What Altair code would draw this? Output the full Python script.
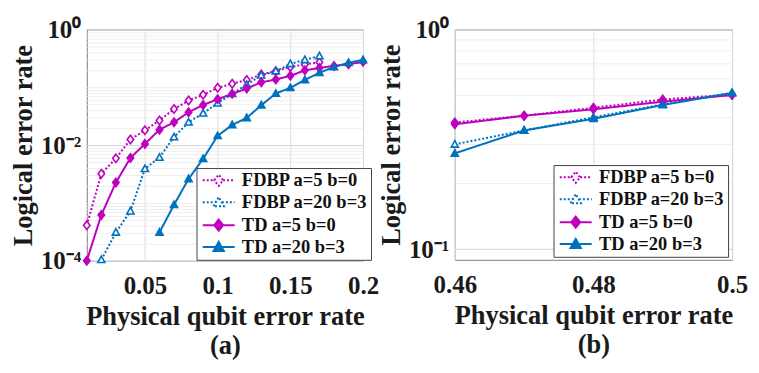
import altair as alt
import pandas as pd

# ---------------- data ----------------
SERIES = ["FDBP a=5 b=0", "FDBP a=20 b=3", "TD a=5 b=0", "TD a=20 b=3"]
COLORS = ["#BF00BF", "#0072BD", "#BF00BF", "#0072BD"]
FILLS = ["white", "white", "#BF00BF", "#0072BD"]
DASHES = [[2, 2], [2, 2], [1, 0], [1, 0]]

# panel (a)
p_fdbp5_a = [0.01, 0.02, 0.03, 0.04, 0.05, 0.06, 0.07, 0.08, 0.09, 0.10,
             0.11, 0.12, 0.13, 0.14, 0.15, 0.16, 0.17]
ler_fdbp5_a = [4.1e-4, 3.2e-3, 5.9e-3, 1.25e-2, 1.8e-2, 2.67e-2, 4.2e-2, 5.9e-2,
               7.4e-2, 9.8e-2, 0.115, 0.134, 0.166, 0.19, 0.225, 0.248, 0.27]

p_fdbp20_a = [0.02, 0.03, 0.04, 0.05, 0.06, 0.07, 0.08, 0.09, 0.10, 0.11,
              0.12, 0.13, 0.14, 0.15, 0.16, 0.17]
ler_fdbp20_a = [1.04e-4, 3.1e-4, 7.2e-4, 3.9e-3, 6.1e-3, 1.38e-2, 2.48e-2, 3.55e-2,
                5.3e-2, 7.7e-2, 0.111, 0.161, 0.19, 0.254, 0.298, 0.347]

p_td5_a = [0.01, 0.02, 0.03, 0.04, 0.05, 0.06, 0.07, 0.08, 0.09, 0.10,
           0.11, 0.12, 0.13, 0.14, 0.15, 0.16, 0.17, 0.18, 0.19, 0.20]
ler_td5_a = [1.0e-4, 6.2e-4, 2.25e-3, 6.0e-3, 1.05e-2, 1.85e-2, 2.48e-2, 3.7e-2,
             4.95e-2, 6.2e-2, 7.7e-2, 9.5e-2, 0.122, 0.136, 0.158, 0.196, 0.216,
             0.234, 0.25, 0.275]

p_td20_a = [0.06, 0.07, 0.08, 0.09, 0.10, 0.11, 0.12, 0.13, 0.14, 0.15,
            0.16, 0.17, 0.18, 0.19, 0.20]
ler_td20_a = [3.1e-4, 9.3e-4, 2.6e-3, 5.8e-3, 1.45e-2, 2.23e-2, 2.96e-2, 4.9e-2,
              7.8e-2, 9.8e-2, 0.134, 0.178, 0.224, 0.265, 0.298]

# panel (b)
p_b = [0.46, 0.47, 0.48, 0.49, 0.50]
ler_fdbp5_b = [0.377, 0.405, 0.44, 0.48, 0.506]
ler_fdbp20_b = [0.30, 0.347, 0.398, 0.456, 0.515]
ler_td5_b = [0.37, 0.405, 0.433, 0.469, 0.503]
ler_td20_b = [0.273, 0.347, 0.392, 0.453, 0.514]

# ticks
x_ticks_a = [0.05, 0.1, 0.15, 0.2]
x_ticks_b = [0.46, 0.48, 0.5]
y_ticks_a = [m * 10.0 ** k for k in range(-4, 0) for m in range(1, 10)] + [1.0]
y_ticks_b = [m * 0.1 for m in range(1, 10)] + [1.0]


def frame(pairs):
    rows = []
    for name, ps, vals in pairs:
        for p, v in zip(ps, vals):
            rows.append({"series": name, "p": p, "ler": v})
    return pd.DataFrame(rows)


df_a = frame([
    (SERIES[0], p_fdbp5_a, ler_fdbp5_a),
    (SERIES[1], p_fdbp20_a, ler_fdbp20_a),
    (SERIES[2], p_td5_a, ler_td5_a),
    (SERIES[3], p_td20_a, ler_td20_a),
])
df_b = frame([
    (SERIES[0], p_b, ler_fdbp5_b),
    (SERIES[1], p_b, ler_fdbp20_b),
    (SERIES[2], p_b, ler_td5_b),
    (SERIES[3], p_b, ler_td20_b),
])

FONT = "Liberation Serif"

DIAM_PT = "M0,-1.3L1,0L0,1.3L-1,0Z"
TRI_PT = "M0,-1.15L1.1,0.85L-1.1,0.85Z"
PT_SHAPES = [DIAM_PT, TRI_PT, DIAM_PT, TRI_PT]
DIAM_LG = "M-4,0H-1.1M1.1,0H4M-1.1,0L0,-1.4L1.1,0L0,1.4Z"
TRI_LG = "M-4,0H-0.8M0.8,0H4M-1.3,1L0,-1.3L1.3,1Z"
LG_SHAPES = [DIAM_LG, TRI_LG, DIAM_LG, TRI_LG]


def panel(df, xdom, xticks, ydom, yticks, labels, caption, lx, ly):
    label_expr, major_test = labels
    x_enc = alt.X(
        "p:Q",
        scale=alt.Scale(domain=xdom, nice=False, zero=False),
        axis=alt.Axis(
            values=xticks, format="~g",
            title=["Physical qubit error rate", caption],
            titleLineHeight=29, titlePadding=5,
            labelPadding=13, labelFlush=False, labelBound=False,
            gridColor="#dcdcdc",
        ),
    )
    y_enc = alt.Y(
        "ler:Q",
        scale=alt.Scale(type="log", domain=ydom, nice=False),
        axis=alt.Axis(
            values=yticks, labelExpr=label_expr,
            title="Logical error rate", titlePadding=3,
            labelPadding=6, labelFlush=False, labelBound=False,
            labelOverlap=False,
            gridColor={"condition": {"test": major_test, "value": "#d6d6d6"},
                       "value": "#eeeeee"},
        ),
    )
    base = alt.Chart(df)
    layers = []
    for i, s in enumerate(SERIES):
        sub = base.transform_filter(alt.datum.series == s)
        layers.append(sub.mark_line(color=COLORS[i], strokeWidth=2,
                                    strokeDash=DASHES[i]).encode(x=x_enc, y=y_enc))
    for i, s in enumerate(SERIES):
        sub = base.transform_filter(alt.datum.series == s)
        layers.append(sub.mark_point(shape=PT_SHAPES[i], size=42, filled=True,
                                     fill=FILLS[i], stroke=COLORS[i],
                                     strokeWidth=1.6, opacity=1).encode(x=x_enc, y=y_enc))

    legend = alt.Legend(
        title=None, orient="none", legendX=lx, legendY=ly,
        direction="vertical",
        symbolSize=64, symbolStrokeWidth=2,
        labelFont=FONT, labelFontSize=18.5, labelFontWeight="bold",
        labelColor="#111111", labelLimit=300,
        fillColor="white", strokeColor="#444444",
        padding=3, rowPadding=3, symbolOffset=10, labelOffset=14,
    )
    legend_layer = base.transform_filter("false").mark_point(
        filled=True, strokeWidth=2, size=64, opacity=1,
    ).encode(
        x=x_enc, y=y_enc,
        shape=alt.Shape("series:N", scale=alt.Scale(domain=SERIES, range=LG_SHAPES),
                        legend=legend),
        stroke=alt.Stroke("series:N", scale=alt.Scale(domain=SERIES, range=COLORS)),
        fill=alt.Fill("series:N", scale=alt.Scale(domain=SERIES, range=FILLS)),
        strokeDash=alt.StrokeDash("series:N",
                                  scale=alt.Scale(domain=SERIES, range=DASHES)),
    )
    layers.append(legend_layer)
    return alt.layer(*layers)


lab_a = ("datum.value > 0.99 ? '10⁰' : abs(datum.value - 0.01) < 1e-9 ? '10⁻²' : "
         "abs(datum.value - 0.0001) < 1e-11 ? '10⁻⁴' : ''",
         "datum.value > 0.99 || abs(datum.value - 0.01) < 1e-9 || "
         "abs(datum.value - 0.0001) < 1e-11")
lab_b = ("datum.value > 0.99 ? '10⁰' : abs(datum.value - 0.1) < 1e-9 ? '10⁻¹' : ''",
         "datum.value > 0.99 || abs(datum.value - 0.1) < 1e-9")

left = panel(df_a, [0.01, 0.2], x_ticks_a, [1e-4, 1.0], y_ticks_a, lab_a, "(a)",
             110, 139).properties(width=277, height=232)
right = panel(df_b, [0.46, 0.5], x_ticks_b, [0.0895, 1.0], y_ticks_b, lab_b, "(b)",
              99, 136).properties(width=278, height=231)

chart = alt.hconcat(left, right, spacing=-2).resolve_scale(
    shape="independent", stroke="independent", fill="independent",
    strokeDash="independent",
).properties(
    padding={"left": 2, "top": 8, "right": 2, "bottom": 2},
    background="white",
).configure_view(
    stroke="#808080", strokeWidth=1,
).configure_axis(
    labelFont=FONT, labelFontSize=25, labelFontWeight="bold", labelColor="#1a1a1a",
    titleFont=FONT, titleFontSize=26.5, titleFontWeight="bold", titleColor="#1a1a1a",
    domain=False, ticks=False, grid=True, gridWidth=1,
)

chart.save("out.html", embed_options={"renderer": "svg", "actions": False})
